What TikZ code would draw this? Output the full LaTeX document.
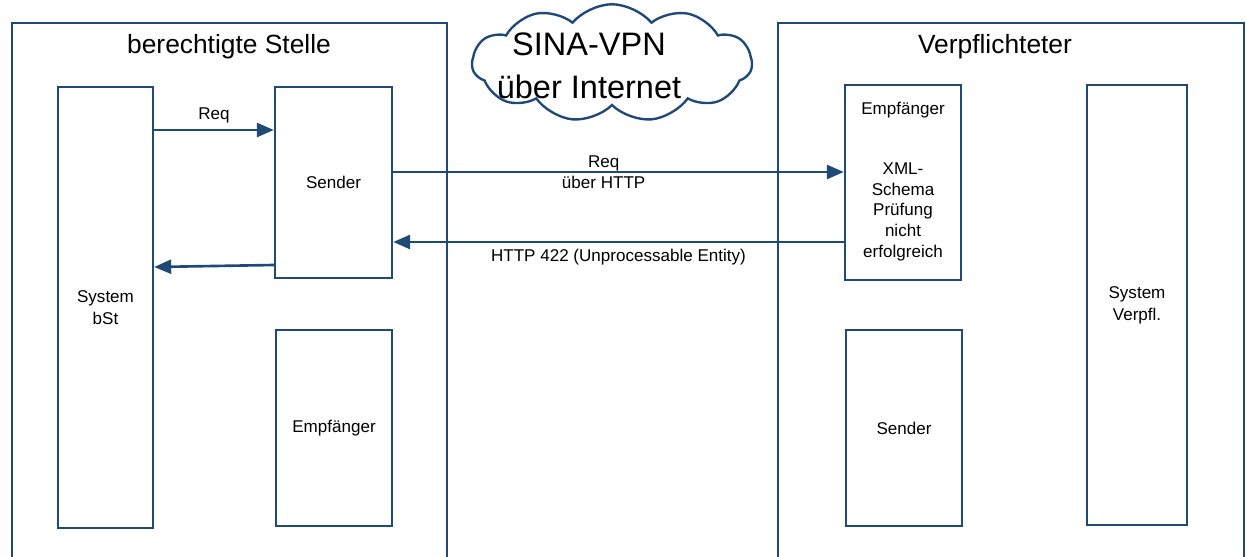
\documentclass[tikz,border=0pt]{standalone}
\usepackage{fontspec}
\setmainfont{Liberation Sans}
\usetikzlibrary{arrows.meta, shapes.symbols, calc}
\definecolor{frameblue}{RGB}{31,74,120}

\tikzset{
  frame/.style={draw=frameblue, line width=1.35pt, anchor=north west, inner sep=0pt},
  unit/.style={draw=frameblue, line width=1.35pt, align=center, inner sep=0pt,
    font=\fontsize{9.7}{12.4}\selectfont},
  txt/.style={align=center, font=\fontsize{9.7}{11.7}\selectfont},
  heading/.style={font=\fontsize{15}{18}\selectfont},
  msg/.style={draw=frameblue, line width=1.5pt, -{Triangle[length=0.34cm, width=0.28cm]}},
}

\begin{document}
\begin{tikzpicture}[x=0.02cm, y=-0.02cm]
            \useasboundingbox (0,0) rectangle (1246,557);
            \clip (0,0) rectangle (1246,557);

            \node[frame, minimum width=8.7cm, minimum height=11.6cm] (bStFrame) at (11,22) {};
            \node[frame, minimum width=9.32cm, minimum height=11.6cm] (verpflFrame) at (777,22) {};
            \node[heading] (bStTitle) at (229,47) {berechtigte Stelle};
            \node[heading] (verpflTitle) at (995,47) {Verpflichteter};

            \node[cloud, draw=frameblue, line width=1.35pt, cloud puffs=11, cloud puff arc=100,
              shape border rotate=8, aspect=2.4, minimum width=5.6cm, minimum height=2.35cm,
              inner sep=0pt] (vpn) at (612,63) {};
            \node[font=\fontsize{18.5}{24.4}\selectfont, align=center] (vpnText) at (589,66) {SINA-VPN\\über Internet};

            \node[unit, minimum width=1.9cm, minimum height=8.82cm] (sysB) at (105.5,307.5) {System\\bSt};
            \node[unit, minimum width=2.34cm, minimum height=3.82cm] (sendL) at (333.5,182.5) {Sender};
            \node[unit, minimum width=2.32cm, minimum height=3.92cm] (empfL) at (334,428) {Empfänger};

            \node[unit, minimum width=2.32cm, minimum height=3.9cm] (empfR) at (903,182.5) {};
            \node[txt] (empfRTitle) at ([yshift=-0.52cm]empfR.north) {Empfänger};
            \node[txt] (xmlCheck) at ([yshift=-2.56cm]empfR.north) {XML-\\Schema\\Prüfung\\nicht\\erfolgreich};
            \node[unit, minimum width=2.32cm, minimum height=3.92cm] (sendR) at (904,428) {Sender};
            \node[unit, minimum width=2.0cm, minimum height=8.8cm] (sysV) at (1137,305) {System\\Verpfl.};

            \coordinate (yReq) at (0,130);
            \coordinate (yHttp) at (0,172);
            \coordinate (yErr) at (0,242);
            \coordinate (yBackA) at (0,265);
            \coordinate (yBackB) at (0,267);

            \path
            (sysB.east |- yReq) edge[msg] node[txt, above] {Req} (sendL.west |- yReq)
            (sendL.east |- yHttp) edge[msg] node[txt, pos=0.467] {Req\\über HTTP} (empfR.west |- yHttp)
            (empfR.west |- yErr) edge[msg] node[txt, below] {HTTP 422 (Unprocessable Entity)} (sendL.east |- yErr)
            (sendL.west |- yBackA) edge[msg] (sysB.east |- yBackB)
            ;
        \end{tikzpicture}
\end{document}
